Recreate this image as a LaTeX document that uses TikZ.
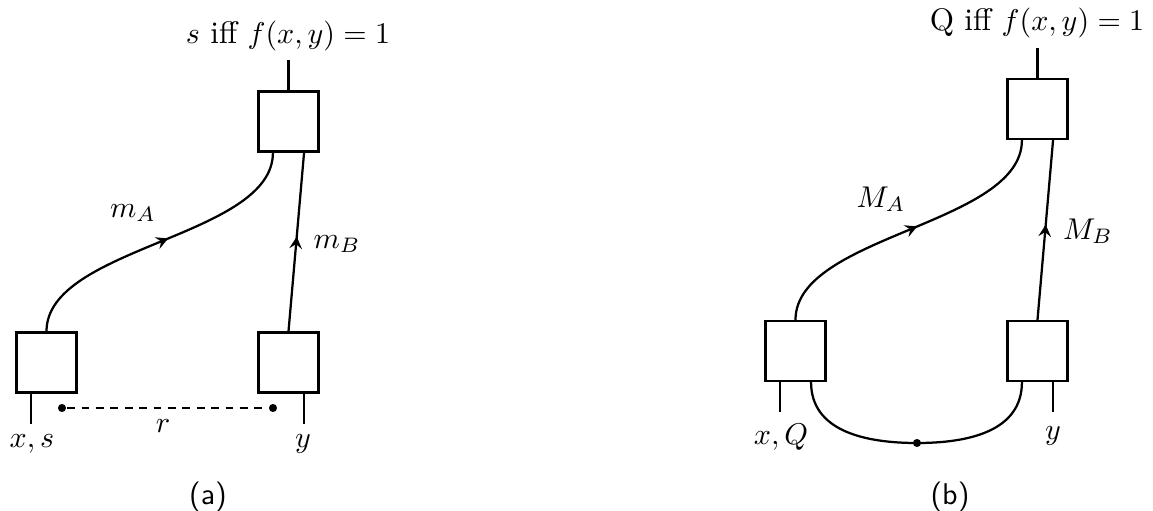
\documentclass[tikz,border=0pt]{standalone}
\usetikzlibrary{decorations.markings,arrows.meta,calc}
\begin{document}
\begin{tikzpicture}[x=0.3333pt,y=-0.3333pt, line width=0.75pt,
  font=\fontsize{10.4pt}{12.5pt}\selectfont,
  blk/.style={draw, minimum size=20pt, inner sep=0pt},
  midarrow/.style={postaction={decorate}, decoration={markings, mark=at position 0.53 with {\arrow{Stealth[length=4pt,width=4.2pt,inset=1.5pt]}}}},
  dotnode/.style={circle, fill, inner sep=0pt, minimum size=2.7pt},
  lbl/.style={anchor=base, inner sep=0pt},
  captext/.style={inner sep=0pt, font=\sffamily},
  dashline/.style={dash pattern=on 2.6pt off 2.2pt}]
\useasboundingbox (0,0) rectangle (1153,511);
% ---------- panel (a)
\node[blk] (TA) at (288.5,121.5) {};
\node[blk] (LA) at (46.5,362.5) {};
\node[blk] (RA) at (288.5,362.5) {};
\coordinate (TAo) at ($(TA.north)+(0,-30)$);
\coordinate (TAl) at ($(TA.south west)!0.25!(TA.south east)$);
\coordinate (TAr) at ($(TA.south west)!0.75!(TA.south east)$);
\coordinate (LAb) at ($(LA.south west)!0.25!(LA.south east)$);
\coordinate (RAb) at ($(RA.south west)!0.75!(RA.south east)$);
\coordinate (LAe) at ($(LAb)+(0,30)$);
\coordinate (RAe) at ($(RAb)+(0,30)$);
\draw (TA.north) -- (TAo);
\node[lbl] (fa) at (288,43) {$s$ iff $f(x,y)=1$};
\draw[midarrow] (LA.north) .. controls ($(LA.north)+(0,-85)$) and ($(TAl)+(0,85)$) .. (TAl);
\draw[midarrow] (RA.north) -- (TAr);
\node[lbl] (mA) at (133,217) {$m_A$};
\node[lbl] (mB) at (337,248) {$m_B$};
\draw (LAb) -- (LAe);
\draw (RAb) -- (RAe);
\node[dotnode] (d1) at (62,408) {};
\node[dotnode] (d2) at (273,408) {};
\draw[dashline] (d1) -- (d2);
\node[lbl] (xs) at (32,447) {$x,s$};
\node[lbl] (r) at (163,432) {$r$};
\node[lbl] (ya) at (303,447) {$y$};
\node[captext] (capa) at (208,497) {(a)};
% ---------- panel (b)
\node[blk] (TB) at (1037.5,109) {};
\node[blk] (LB) at (795.5,351) {};
\node[blk] (RB) at (1037.5,351) {};
\coordinate (TBo) at ($(TB.north)+(0,-30)$);
\coordinate (TBl) at ($(TB.south west)!0.25!(TB.south east)$);
\coordinate (TBr) at ($(TB.south west)!0.75!(TB.south east)$);
\coordinate (LBl) at ($(LB.south west)!0.25!(LB.south east)$);
\coordinate (LBr) at ($(LB.south west)!0.75!(LB.south east)$);
\coordinate (RBl) at ($(RB.south west)!0.25!(RB.south east)$);
\coordinate (RBr) at ($(RB.south west)!0.75!(RB.south east)$);
\coordinate (LBe) at ($(LBl)+(0,30)$);
\coordinate (RBe) at ($(RBr)+(0,30)$);
\draw (TB.north) -- (TBo);
\node[lbl] (fb) at (1037,30) {Q iff $f(x,y)=1$};
\draw[midarrow] (LB.north) .. controls ($(LB.north)+(0,-85)$) and ($(TBl)+(0,85)$) .. (TBl);
\draw[midarrow] (RB.north) -- (TBr);
\node[lbl] (MA) at (881,207) {$M_A$};
\node[lbl] (MB) at (1088,239) {$M_B$};
\draw (LBl) -- (LBe);
\draw (RBr) -- (RBe);
\node[dotnode] (db) at (917,443) {};
\draw (LBr) .. controls ($(LBr)+(0,49)$) and (865,443) .. (db.center) .. controls (969,443) and ($(RBl)+(0,49)$) .. (RBl);
\node[lbl] (xQ) at (781,444) {$x,Q$};
\node[lbl] (yb) at (1053,439) {$y$};
\node[captext] (capb) at (950,497) {(b)};
\end{tikzpicture}
\end{document}
